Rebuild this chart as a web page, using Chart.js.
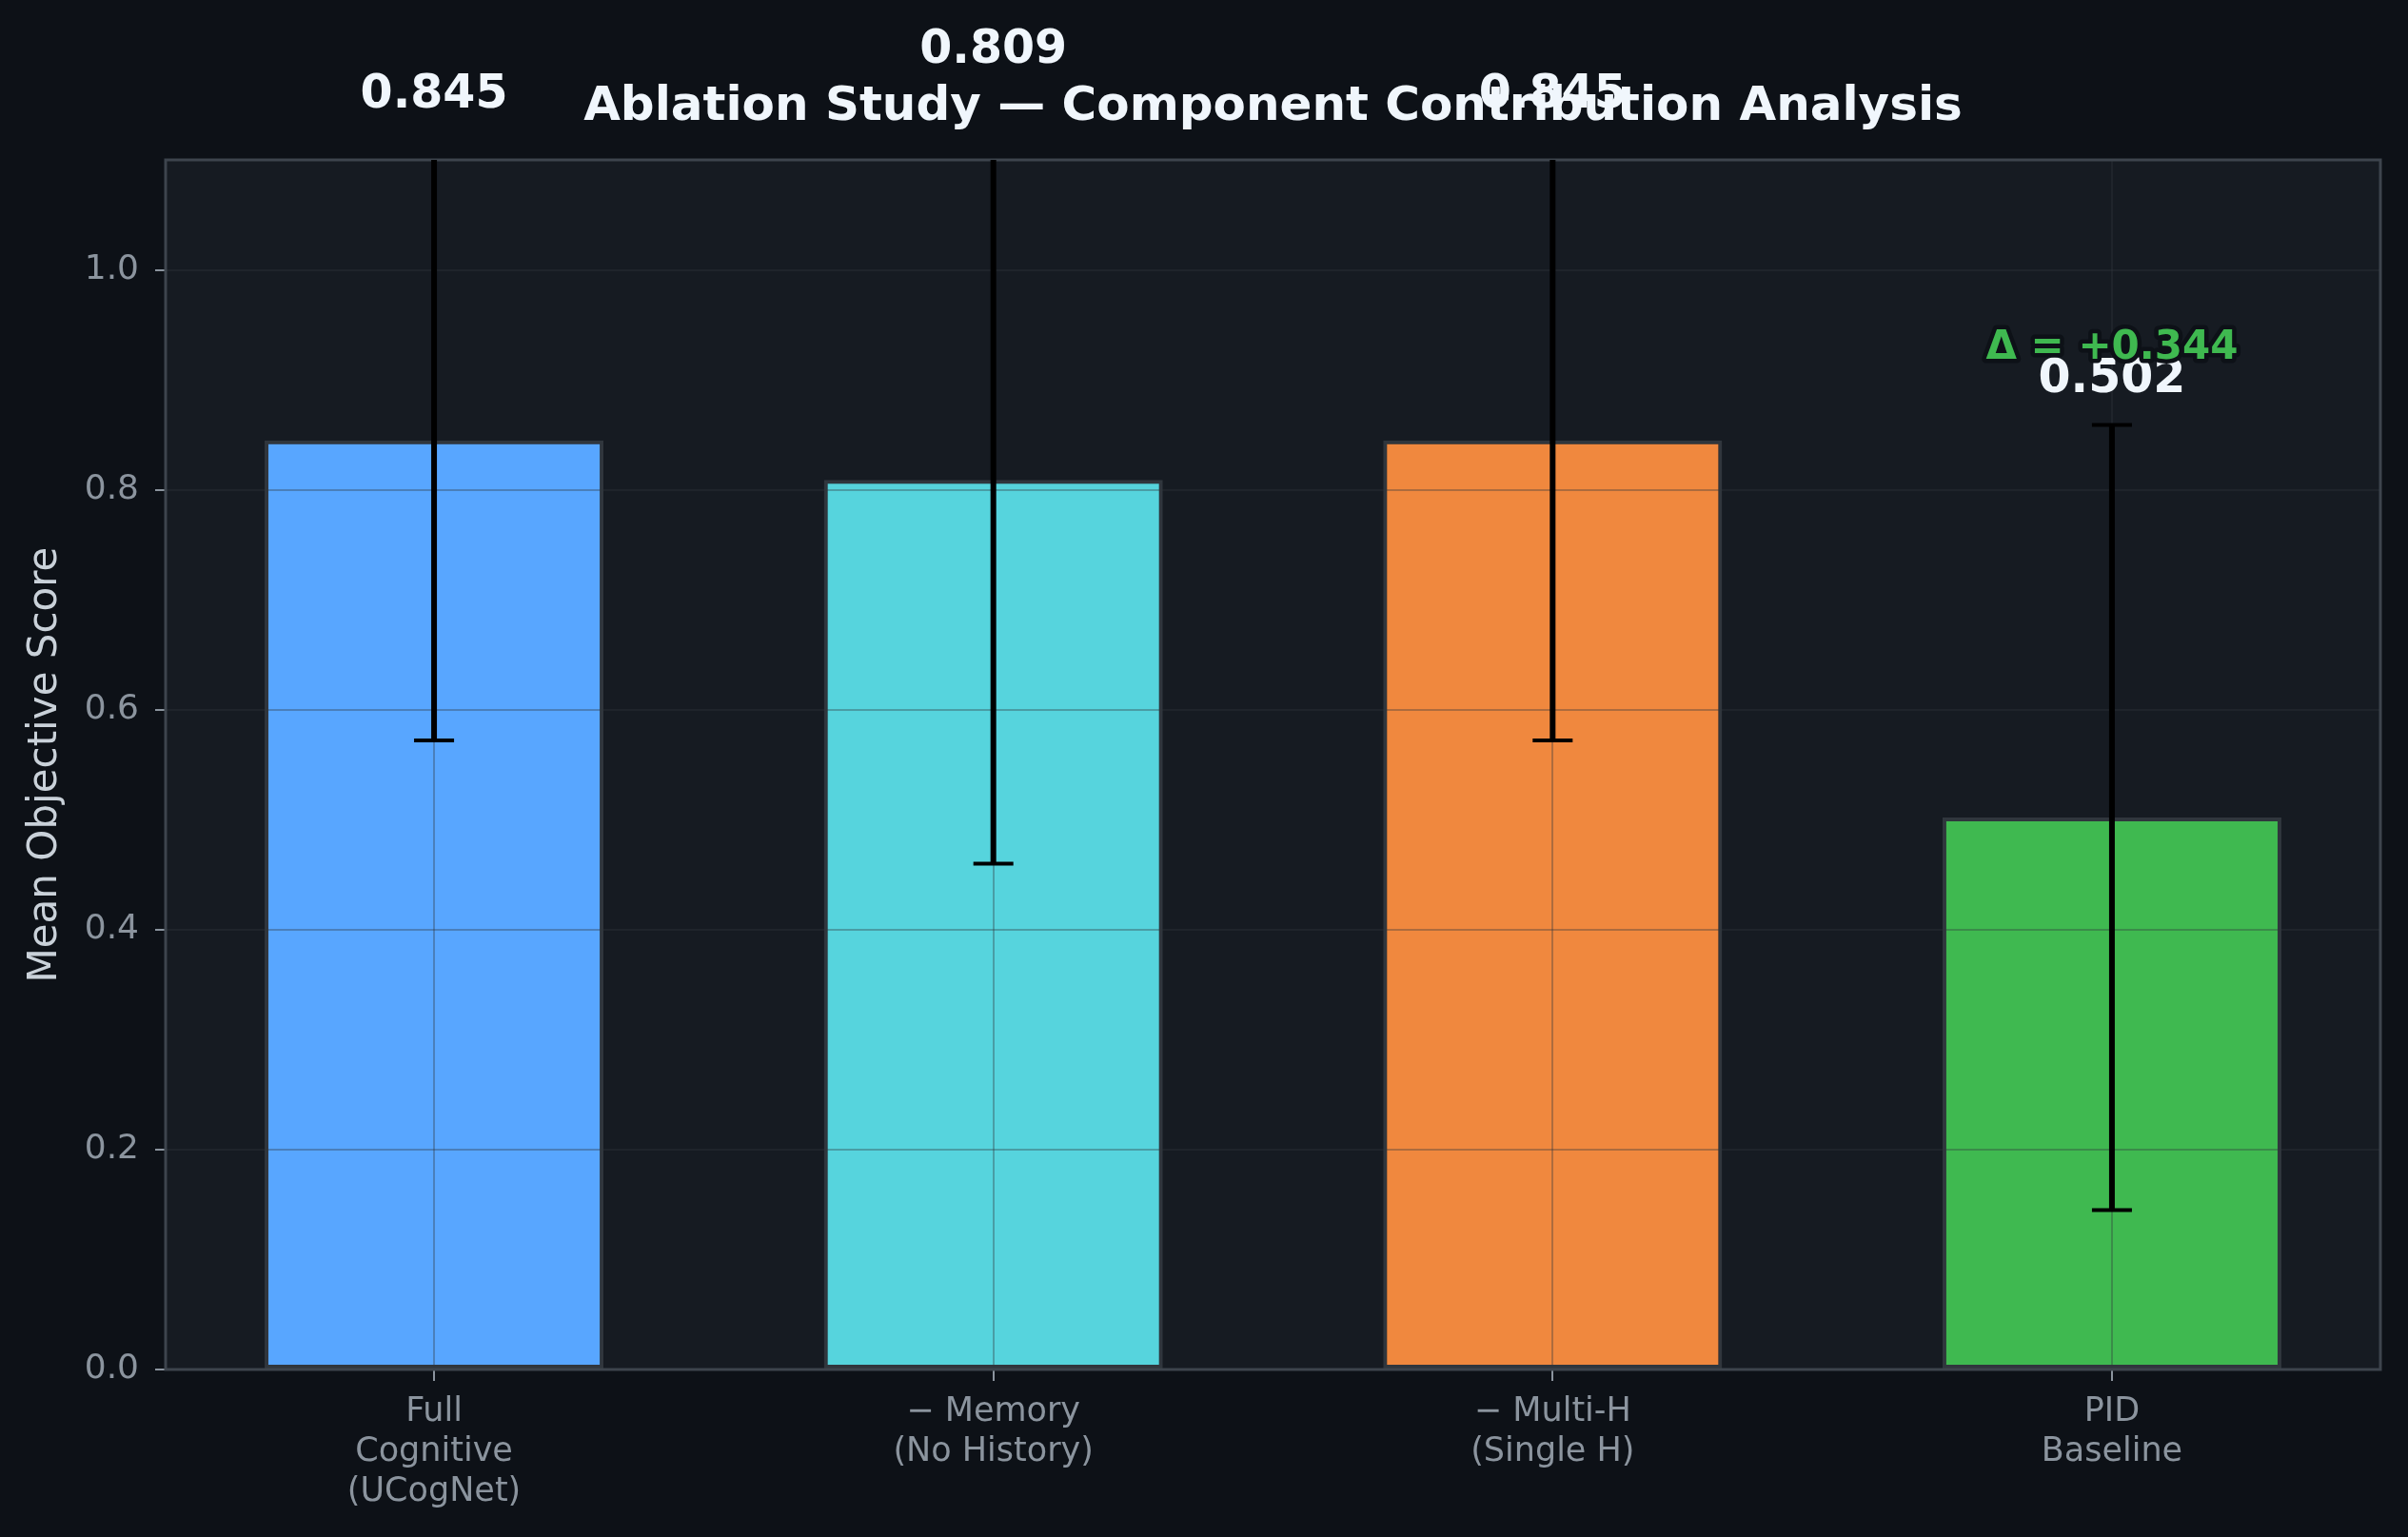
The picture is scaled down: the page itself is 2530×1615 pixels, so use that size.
<!DOCTYPE html>
<html>
<head>
<meta charset="utf-8">
<script src="https://cdn.jsdelivr.net/npm/chart.js@4.4.1/dist/chart.umd.min.js"></script>
<style>
  html, body { margin: 0; padding: 0; background: #0d1117; }
  canvas { display: block; }
</style>
</head>
<body>
<canvas id="ablation" width="2530" height="1615"></canvas>
<script>
// datos
const categorias = [
    ['Full', 'Cognitive', '(UCogNet)'],
    ['\u2212 Memory', '(No History)'],
    ['\u2212 Multi-H', '(Single H)'],
    ['PID', 'Baseline']
];
const medias = [0.845, 0.809, 0.845, 0.502];
const desvios = [0.273, 0.349, 0.273, 0.357];
const yTicks = [0, 0.2, 0.4, 0.6, 0.8, 1.0];
const deltaTexto = '\u0394 = +0.344';

const colores = ['#58a6ff', '#56d4dd', '#f0883e', '#3fb950'];
const fuente = 'DejaVu Sans';

// fondo, barras de error y etiquetas
const decoracion = {
    id: 'decoracion',
    beforeDraw(chart) {
        const { ctx, chartArea: a } = chart;
        ctx.save();
        ctx.fillStyle = '#0d1117';
        ctx.fillRect(0, 0, chart.width, chart.height);
        ctx.fillStyle = '#161b22';
        ctx.fillRect(a.left, a.top, a.right - a.left, a.bottom - a.top);
        ctx.restore();
    },
    afterDraw(chart) {
        const { ctx, chartArea: a } = chart;
        const xs = chart.scales.x;
        const ys = chart.scales.y;

        // marco
        ctx.save();
        ctx.strokeStyle = '#3d444d';
        ctx.lineWidth = 3;
        ctx.strokeRect(a.left, a.top, a.right - a.left, a.bottom - a.top);
        ctx.restore();

        // barras de error (recortadas al area)
        ctx.save();
        ctx.beginPath();
        ctx.rect(a.left, a.top, a.right - a.left, a.bottom - a.top);
        ctx.clip();
        ctx.strokeStyle = '#000000';
        medias.forEach((m, i) => {
            const x = xs.getPixelForValue(i);
            const yArr = ys.getPixelForValue(m + desvios[i]);
            const yAb = ys.getPixelForValue(m - desvios[i]);
            ctx.lineWidth = 6;
            ctx.beginPath();
            ctx.moveTo(x, yArr);
            ctx.lineTo(x, yAb);
            ctx.stroke();
            ctx.lineWidth = 4;
            ctx.beginPath();
            ctx.moveTo(x - 21, yArr);
            ctx.lineTo(x + 21, yArr);
            ctx.moveTo(x - 21, yAb);
            ctx.lineTo(x + 21, yAb);
            ctx.stroke();
        });
        ctx.restore();

        // valores arriba de cada barra
        ctx.save();
        ctx.font = 'bold 49px "' + fuente + '"';
        ctx.fillStyle = '#f0f6fc';
        ctx.textAlign = 'center';
        ctx.textBaseline = 'alphabetic';
        medias.forEach((m, i) => {
            const x = xs.getPixelForValue(i);
            const y = ys.getPixelForValue(m + desvios[i] + 0.03);
            ctx.fillText(m.toFixed(3), x, y);
        });

        // diferencia contra PID
        const ult = medias.length - 1;
        const xd = xs.getPixelForValue(ult);
        const yd = ys.getPixelForValue(medias[ult] + desvios[ult] + 0.06);
        ctx.font = 'bold 42px "' + fuente + '"';
        ctx.lineJoin = 'round';
        ctx.lineWidth = 9;
        ctx.strokeStyle = '#0d1117';
        ctx.strokeText(deltaTexto, xd, yd);
        ctx.fillStyle = '#3fb950';
        ctx.fillText(deltaTexto, xd, yd);
        ctx.restore();
    }
};

const gridColor = 'rgba(48, 54, 61, 0.35)';

new Chart(document.getElementById('ablation'), {
    type: 'bar',
    data: {
        datasets: [{
            data: medias.map((v, i) => ({ x: i, y: v })),
            backgroundColor: colores,
            borderColor: '#30363d',
            borderWidth: 4,
            borderSkipped: false,
            barPercentage: 0.606,
            categoryPercentage: 1
        }]
    },
    options: {
        responsive: false,
        animation: false,
        devicePixelRatio: 1,
        layout: {
            padding: { left: 0, right: 29, top: 0, bottom: 0 }
        },
        plugins: {
            legend: { display: false },
            tooltip: { enabled: false },
            title: {
                display: true,
                fullSize: false,
                text: 'Ablation Study \u2014 Component Contribution Analysis',
                color: '#f0f6fc',
                font: { family: fuente, size: 50, weight: 'bold' },
                padding: { top: 83, bottom: 25 }
            }
        },
        scales: {
            x: {
                type: 'linear',
                min: -0.48,
                max: 3.48,
                offset: false,
                afterBuildTicks: (scale) => {
                    scale.ticks = categorias.map((c, i) => ({ value: i }));
                },
                afterFit: (scale) => { scale.height = 176; },
                grid: {
                    z: 1,
                    offset: false,
                    color: gridColor,
                    lineWidth: 2,
                    tickLength: 12,
                    tickColor: '#8b949e',
                    tickWidth: 2
                },
                border: { display: false },
                ticks: {
                    color: '#8b949e',
                    font: { family: fuente, size: 35 },
                    padding: 12,
                    maxRotation: 0,
                    minRotation: 0,
                    autoSkip: false,
                    callback: (v) => categorias[v]
                }
            },
            y: {
                min: 0,
                max: 1.1,
                afterBuildTicks: (scale) => {
                    scale.ticks = yTicks.map(v => ({ value: v }));
                },
                afterFit: (scale) => { scale.width = 174; },
                grid: {
                    z: 1,
                    color: gridColor,
                    lineWidth: 2,
                    tickLength: 11,
                    tickColor: '#8b949e',
                    tickWidth: 2
                },
                border: { display: false },
                ticks: {
                    color: '#8b949e',
                    font: { family: fuente, size: 36 },
                    padding: 17,
                    callback: (v) => v.toFixed(1)
                },
                title: {
                    display: true,
                    text: 'Mean Objective Score',
                    color: '#c9d1d9',
                    font: { family: fuente, size: 42 },
                    padding: { top: 23, bottom: 0 }
                }
            }
        }
    },
    plugins: [decoracion]
});
</script>
</body>
</html>
